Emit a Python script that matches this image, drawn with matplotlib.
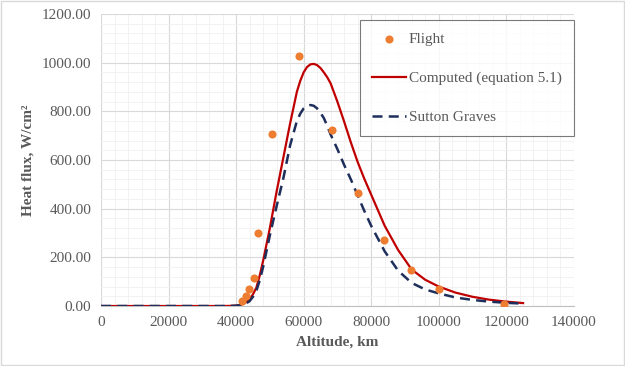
import matplotlib
matplotlib.use("Agg")
import matplotlib.pyplot as plt
from matplotlib.ticker import MultipleLocator, FuncFormatter
from matplotlib.patches import Rectangle

# Data
flight_alt = [41700, 42900, 43800, 45300, 46500, 50600, 58600, 68400, 76000, 83800, 91700, 100000, 119300]
flight_q = [20, 41, 70, 115, 300, 707, 1027, 723, 464, 271, 148, 70, 8]

curve_alt = [0, 20000, 36000, 38000, 40000, 41000, 42000, 43000, 44000, 45000, 46000, 47000, 48000,
             50000, 52000, 54000, 56000, 58000, 59000, 60000, 61000, 62000, 63000, 64000, 65000,
             66000, 67000, 68000, 70000, 72000, 74000, 76000, 78000, 80000, 84000, 88000, 92000,
             96000, 100000, 105000, 110000, 115000, 120000, 125000]
computed_q = [0, 0, 0, 0.5, 2, 4, 8, 16, 28, 48, 75, 125, 185,
              320, 470, 610, 750, 880, 925, 960, 982, 993, 995, 990, 978,
              960, 940, 915, 840, 758, 672, 592, 522, 458, 330, 230, 150,
              108, 80, 55, 38, 26, 18, 12]
sutton_q = [0, 0, 0, 0.3, 1, 3, 5, 11, 20, 38, 62, 105, 160,
            290, 410, 525, 660, 760, 790, 812, 822, 826, 823, 812, 794,
            772, 740, 705, 645, 580, 520, 455, 390, 330, 225, 145, 95,
            68, 52, 35, 25, 18, 13, 10]

x_ticks = [0, 20000, 40000, 60000, 80000, 100000, 120000, 140000]
y_ticks = [0, 200, 400, 600, 800, 1000, 1200]

plt.rcParams['font.family'] = ['Liberation Serif', 'DejaVu Serif']

fig = plt.figure(figsize=(6.25, 3.66), dpi=100)
ax = fig.add_axes([0.1616, 0.1639, 0.918 - 0.1616, 0.9617 - 0.1639])

ax.plot(curve_alt, computed_q, color='#C00000', lw=1.6, label='Computed (equation 5.1)', zorder=3)
ax.plot(curve_alt, sutton_q, color='#1F2F5C', lw=1.8, ls=(0, (4, 2.5)), label='Sutton Graves', zorder=4)
ax.scatter(flight_alt, flight_q, s=34, color='#ED7D31', label='Flight', zorder=5, linewidths=0)

ax.set_xlim(0, 140000)
ax.set_ylim(0, 1200)
ax.set_xticks(x_ticks)
ax.set_yticks(y_ticks)
ax.xaxis.set_minor_locator(MultipleLocator(4000))
ax.yaxis.set_minor_locator(MultipleLocator(40))
ax.yaxis.set_major_formatter(FuncFormatter(lambda v, p: f"{v:.2f}"))
ax.xaxis.set_major_formatter(FuncFormatter(lambda v, p: f"{int(v)}"))

ax.grid(which='major', color='#D9D9D9', lw=0.8)
ax.grid(which='minor', color='#F0F0F0', lw=0.6)
ax.set_axisbelow(True)
for s in ['top', 'right', 'left']:
    ax.spines[s].set_visible(False)
ax.spines['bottom'].set_color('#BFBFBF')
ax.tick_params(which='both', length=0, labelsize=11, colors='#595959', pad=7)

ax.set_xlabel('Altitude, km', fontsize=11, fontweight='bold', color='#595959', labelpad=5)
ax.set_ylabel('Heat flux, W/cm²', fontsize=11, fontweight='bold', color='#595959', labelpad=5)

h, l = ax.get_legend_handles_labels()
order = [2, 0, 1]
leg = ax.legend([h[i] for i in order], [l[i] for i in order], loc='upper left',
                bbox_to_anchor=(0.576, 0.945), bbox_transform=fig.transFigure,
                fontsize=11, frameon=True, fancybox=False, edgecolor='#595959',
                labelspacing=1.65, handlelength=2.2, handletextpad=0.2,
                borderpad=0.8, borderaxespad=0)
leg.get_frame().set_linewidth(0.8)
for t in leg.get_texts():
    t.set_color('#595959')

fig.patches.append(Rectangle((0.002, 0.003), 0.996, 0.994, transform=fig.transFigure,
                             fill=False, edgecolor='#D9D9D9', lw=1))

fig.savefig('out.png', dpi=100)
